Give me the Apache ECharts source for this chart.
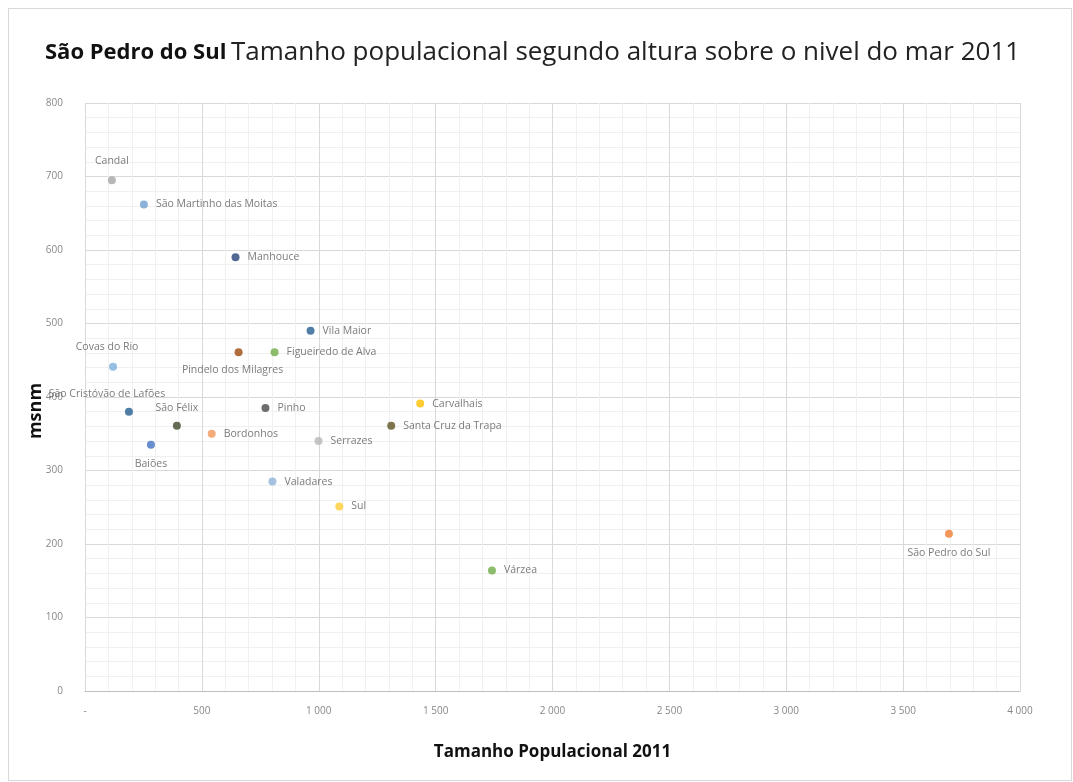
<!DOCTYPE html>
<html>
<head>
<meta charset="utf-8">
<script src="https://cdn.jsdelivr.net/npm/echarts@6/dist/echarts.min.js"></script>
<style>
  html, body { margin: 0; padding: 0; background: #fff; }
  #chart { position: absolute; left: 8px; top: 8px; width: 1064px; height: 773px; border: 1px solid #d9d9d9; box-sizing: border-box; }
</style>
</head>
<body>
<div id="chart"></div>
<script>
// freguesias: population 2011 vs altitude (msnm)
var names = ['Candal', 'São Martinho das Moitas', 'Manhouce', 'Vila Maior', 'Pindelo dos Milagres',
  'Figueiredo de Alva', 'Covas do Rio', 'São Cristóvão de Lafões', 'São Félix', 'Baiões',
  'Pinho', 'Bordonhos', 'Serrazes', 'Carvalhais', 'Santa Cruz da Trapa',
  'Valadares', 'Sul', 'Várzea', 'São Pedro do Sul'];
var population = [115, 252, 644, 965, 657, 811, 120, 188, 393, 282,
  772, 542, 999, 1434, 1310, 802, 1088, 1741, 3696];
var altitude = [695, 662, 590, 490, 461, 461, 441, 380, 361, 335,
  385, 350, 340, 391, 361, 285, 251, 164, 214];
var colors = ['#a5a5a5', '#6f9fd0', '#264478', '#255e91', '#9e480e',
  '#70ad47', '#7cafdd', '#255e91', '#3e4a2a', '#4472c4',
  '#4a4a4a', '#f1975a', '#b7b7b7', '#ffc000', '#5e5420',
  '#8fb4d8', '#ffcd33', '#70ad47', '#ed7d31'];
var labelPos = ['top', 'right', 'right', 'right', 'bottom',
  'right', 'top', 'top', 'top', 'bottom',
  'right', 'right', 'right', 'right', 'right',
  'right', 'right', 'right', 'bottom'];
var labelOffset = {
  'Candal': [0, -2], 'Covas do Rio': [-6, -2], 'São Cristóvão de Lafões': [-22, 0],
  'Pindelo dos Milagres': [-6, 0], 'Baiões': [0, 2], 'São Pedro do Sul': [0, 2]
};

var dom = document.getElementById('chart');
var myChart = echarts.init(dom, null, { renderer: 'canvas' });

var points = names.map(function (n, i) {
  return {
    name: n,
    value: [population[i], altitude[i]],
    itemStyle: { color: colors[i] },
    label: { position: labelPos[i], offset: labelOffset[n] || [0, 0] }
  };
});

function fmtThousands(v) {
  if (v === 0) return '-';
  var s = String(v);
  return s.length > 3 ? s.slice(0, s.length - 3) + ' ' + s.slice(-3) : s;
}

var option = {
  backgroundColor: '#fff',
  textStyle: { fontFamily: 'Open Sans' },
  title: {
    left: 31,
    top: 26,
    text: '{b|São Pedro do Sul} {n|Tamanho populacional segundo altura sobre o nivel do mar 2011}',
    textStyle: {
      rich: {
        b: { fontFamily: 'Open Sans', fontWeight: 'bold', fontSize: 22, color: '#111' },
        n: { fontFamily: 'Open Sans', fontWeight: 'normal', fontSize: 26, color: '#222' }
      }
    }
  },
  // y axis title, drawn rotated beside the axis
  graphic: [
    {
      type: 'text',
      x: 27,
      y: 402,
      rotation: Math.PI / 2,
      style: {
        text: 'msnm',
        fontFamily: 'Open Sans',
        fontWeight: 'bold',
        fontSize: 18,
        fill: '#111',
        align: 'center',
        verticalAlign: 'middle'
      }
    }
  ],
  grid: { left: 76, right: 51, top: 94, bottom: 89 },
  xAxis: {
    type: 'value',
    min: 0,
    max: 4000,
    interval: 500,
    name: 'Tamanho Populacional 2011',
    nameLocation: 'middle',
    nameGap: 53,
    nameTextStyle: { fontFamily: 'Open Sans', fontWeight: 'bold', fontSize: 17, color: '#111' },
    axisLine: { lineStyle: { color: '#bfbfbf' } },
    axisTick: { show: false },
    axisLabel: { color: '#888', fontSize: 10, margin: 15, formatter: fmtThousands },
    splitLine: { lineStyle: { color: '#d9d9d9' } },
    minorTick: { show: true, splitNumber: 5, length: 0 },
    minorSplitLine: { show: true, lineStyle: { color: '#f0f0f0' } }
  },
  yAxis: {
    type: 'value',
    min: 0,
    max: 800,
    interval: 100,
    axisLine: { show: false },
    axisTick: { show: false },
    axisLabel: { color: '#888', fontSize: 10, margin: 22 },
    splitLine: { lineStyle: { color: '#d9d9d9' } },
    minorTick: { show: true, splitNumber: 5, length: 0 },
    minorSplitLine: { show: true, lineStyle: { color: '#f0f0f0' } }
  },
  series: [
    {
      type: 'scatter',
      symbolSize: 8,
      data: points,
      label: {
        show: true,
        formatter: '{b}',
        color: '#595959',
        fontSize: 10.5,
        distance: 8
      }
    }
  ]
};

myChart.setOption(option);
window.addEventListener('resize', myChart.resize);
</script>
</body>
</html>
